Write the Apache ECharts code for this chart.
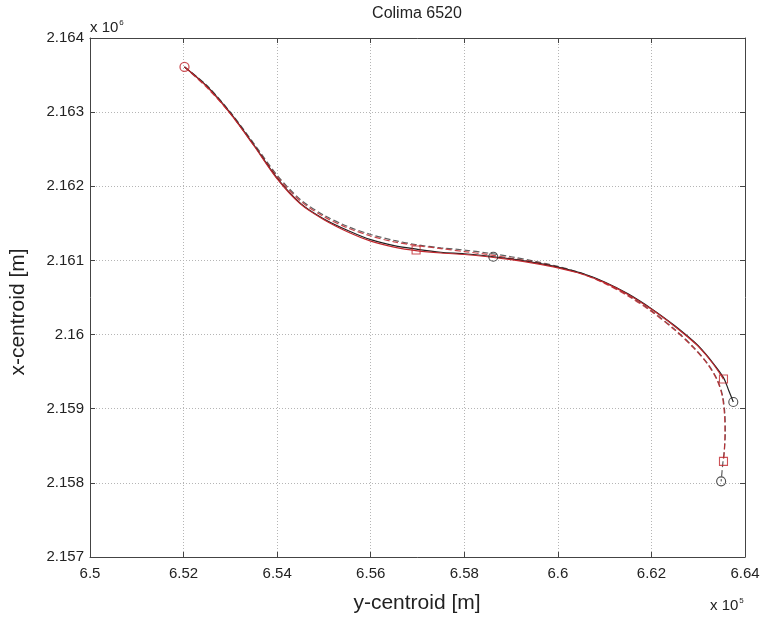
<!DOCTYPE html>
<html>
<head>
<meta charset="utf-8">
<script src="https://cdn.jsdelivr.net/npm/echarts@6/dist/echarts.min.js"></script>
<style>html,body{margin:0;padding:0;background:#fff}#c{width:763px;height:617px}</style>
</head>
<body>
<div id="c"></div>
<script>
// x values in units of 1e5 m, y values in units of 1e6 m
var xTicks = [6.5, 6.52, 6.54, 6.56, 6.58, 6.6, 6.62, 6.64];
var yTicks = [2.157, 2.158, 2.159, 2.16, 2.161, 2.162, 2.163, 2.164];

var redSolid = [
  [6.5202, 2.16361], [6.5250, 2.16334], [6.5300, 2.16298], [6.5350, 2.16255],
  [6.5400, 2.16210], [6.5450, 2.16176], [6.5500, 2.16155], [6.5556, 2.16137],
  [6.5600, 2.16126], [6.5650, 2.16118], [6.5700, 2.16113], [6.5750, 2.16110],
  [6.5800, 2.16108], [6.5850, 2.16105], [6.5900, 2.16101], [6.5950, 2.16096],
  [6.6000, 2.16090], [6.6050, 2.16082], [6.6100, 2.16070], [6.6150, 2.16054],
  [6.6200, 2.16034], [6.6250, 2.16011], [6.6275, 2.15998], [6.6300, 2.15984],
  [6.6330, 2.15962], [6.6354, 2.15940]
];
var blackSolid = [
  [6.5202, 2.16361], [6.5250, 2.16335], [6.5300, 2.16299], [6.5350, 2.16256],
  [6.5400, 2.16211], [6.5450, 2.16177], [6.5500, 2.16156], [6.5556, 2.16139],
  [6.5600, 2.16128], [6.5650, 2.16120], [6.5700, 2.16115], [6.5750, 2.16111],
  [6.5800, 2.16109], [6.5850, 2.16106], [6.5900, 2.16102], [6.5950, 2.16097],
  [6.6000, 2.16091], [6.6050, 2.16083], [6.6100, 2.16071], [6.6150, 2.16055],
  [6.6200, 2.16035], [6.6250, 2.16012], [6.6275, 2.15999], [6.6300, 2.15985],
  [6.6330, 2.15963], [6.6354, 2.15942], [6.6365, 2.15925], [6.6375, 2.15909]
];
var blackDashed = [
  [6.5202, 2.16361], [6.5250, 2.16336], [6.5300, 2.16300], [6.5350, 2.16258],
  [6.5400, 2.16215], [6.5450, 2.16182], [6.5500, 2.16161], [6.5550, 2.16146],
  [6.5600, 2.16135], [6.5650, 2.16127], [6.5700, 2.16121], [6.5750, 2.16117],
  [6.5800, 2.16114], [6.5850, 2.16110], [6.5900, 2.16105], [6.5950, 2.16099],
  [6.6000, 2.16092], [6.6050, 2.16083], [6.6100, 2.16070], [6.6150, 2.16053],
  [6.6200, 2.16032], [6.6250, 2.16007], [6.6290, 2.15983], [6.6320, 2.15961],
  [6.6340, 2.15940], [6.6352, 2.15918], [6.6357, 2.15893], [6.6358, 2.15868],
  [6.6356, 2.15845], [6.6353, 2.15829], [6.6349, 2.15802]
];
var redDashed = [
  [6.5202, 2.16361], [6.5250, 2.16333], [6.5300, 2.16298], [6.5350, 2.16256],
  [6.5400, 2.16213], [6.5450, 2.16180], [6.5500, 2.16159], [6.5550, 2.16144],
  [6.5600, 2.16133], [6.5650, 2.16125], [6.5700, 2.16120], [6.5750, 2.16116],
  [6.5800, 2.16112], [6.5850, 2.16108], [6.5900, 2.16103], [6.5950, 2.16098],
  [6.6000, 2.16091], [6.6050, 2.16082], [6.6100, 2.16069], [6.6150, 2.16052],
  [6.6200, 2.16031], [6.6250, 2.16006], [6.6290, 2.15982], [6.6320, 2.15960],
  [6.6340, 2.15939], [6.6351, 2.15918], [6.6356, 2.15893], [6.6357, 2.15868],
  [6.6356, 2.15845], [6.6354, 2.15829]
];
var redCircles = [[6.5202, 2.16361]];
var blackCircles = [[6.5862, 2.16105], [6.6375, 2.15909], [6.6349, 2.15802]];
var redSquares = [[6.5697, 2.16114], [6.6354, 2.15940], [6.6354, 2.15829]];

var RED = '#c1272d', BLK = '#222222', FR = '#444444';
var FONT = 'Liberation Sans, Arial, sans-serif';
var chart = echarts.init(document.getElementById('c'), null, {renderer: 'canvas'});
var fmt = function (v) { return String(+v.toFixed(4)); };
var xBase = {
  type: 'value', min: xTicks[0], max: xTicks[xTicks.length - 1], interval: 0.02,
  axisLine: {show: true, lineStyle: {color: FR, width: 1}},
  axisTick: {show: true, inside: true, length: 5, lineStyle: {color: FR}},
  splitLine: {show: false}
};
var yBase = {
  type: 'value', min: yTicks[0], max: yTicks[yTicks.length - 1], interval: 0.001,
  axisLine: {show: true, lineStyle: {color: FR, width: 1}},
  axisTick: {show: true, inside: true, length: 5, lineStyle: {color: FR}},
  splitLine: {show: false}
};
var lineS = function (data, color, dashed, z) {
  return {
    type: 'line', data: data, showSymbol: false, symbol: 'none', smooth: 0.3,
    xAxisIndex: 0, yAxisIndex: 0, z: z, animation: false, silent: true,
    lineStyle: {color: color, width: 1.2, type: dashed ? [6, 3] : 'solid', opacity: dashed ? 0.85 : 1}
  };
};
chart.setOption({
  animation: false,
  backgroundColor: '#ffffff',
  textStyle: {fontFamily: FONT},
  grid: {left: 90, right: 18, top: 38, bottom: 60, containLabel: false},
  xAxis: [
    Object.assign({}, xBase, {
      position: 'bottom',
      axisLabel: {show: true, formatter: fmt, color: '#222', fontSize: 15, margin: 9, fontFamily: FONT},
      splitLine: {show: true, lineStyle: {color: '#b5b5b5', type: [1, 2], width: 1}}
    }),
    Object.assign({}, xBase, {position: 'top', axisLabel: {show: false}})
  ],
  yAxis: [
    Object.assign({}, yBase, {
      position: 'left',
      axisLabel: {show: true, formatter: fmt, color: '#222', fontSize: 15, margin: 6, fontFamily: FONT},
      splitLine: {show: true, lineStyle: {color: '#b5b5b5', type: [1, 2], width: 1}}
    }),
    Object.assign({}, yBase, {position: 'right', axisLabel: {show: false}})
  ],
  series: [
    lineS(blackDashed, '#444444', true, 2),
    lineS(redDashed, RED, true, 3),
    lineS(blackSolid, BLK, false, 4),
    lineS(redSolid, RED, false, 5),
    {type: 'scatter', data: redCircles, symbol: 'circle', symbolSize: 9, z: 6, silent: true,
      itemStyle: {color: 'rgba(0,0,0,0)', borderColor: RED, borderWidth: 1.3}},
    {type: 'scatter', data: blackCircles, symbol: 'circle', symbolSize: 9, z: 6, silent: true,
      itemStyle: {color: 'rgba(0,0,0,0)', borderColor: BLK, borderWidth: 1.1}},
    {type: 'scatter', data: redSquares, symbol: 'rect', symbolSize: 8, z: 6, silent: true,
      itemStyle: {color: 'rgba(0,0,0,0)', borderColor: RED, borderWidth: 1.1}}
  ],
  graphic: [
    {type: 'text', x: 417, y: 14, silent: true,
      style: {text: 'Colima 6520', fontSize: 16, fill: '#222', align: 'center', verticalAlign: 'middle', fontFamily: FONT}},
    {type: 'text', x: 417, y: 603, silent: true,
      style: {text: 'y-centroid [m]', fontSize: 21, fill: '#222', align: 'center', verticalAlign: 'middle', fontFamily: FONT}},
    {type: 'text', x: 18, y: 312, rotation: Math.PI / 2, silent: true,
      style: {text: 'x-centroid [m]', fontSize: 21, fill: '#222', align: 'center', verticalAlign: 'middle', fontFamily: FONT}},
    {type: 'text', x: 90, y: 19, silent: true,
      style: {text: '{b|x 10}{s|6}', fill: '#222', fontFamily: FONT,
        rich: {b: {fontSize: 15, fill: '#222'}, s: {fontSize: 8, fill: '#222', verticalAlign: 'top', padding: [0, 0, 10, 1]}}}},
    {type: 'text', x: 710, y: 597, silent: true,
      style: {text: '{b|x 10}{s|5}', fill: '#222', fontFamily: FONT,
        rich: {b: {fontSize: 15, fill: '#222'}, s: {fontSize: 8, fill: '#222', verticalAlign: 'top', padding: [0, 0, 10, 1]}}}}
  ]
});
</script>
</body>
</html>
